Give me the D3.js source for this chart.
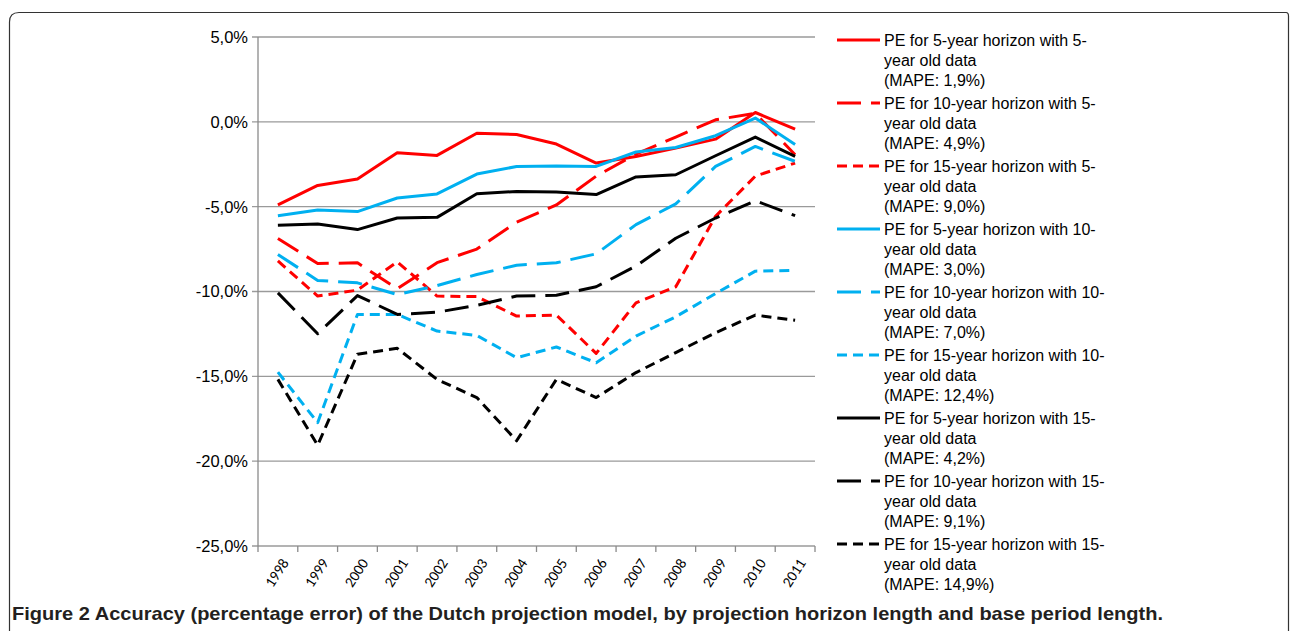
<!DOCTYPE html>
<html>
<head>
<meta charset="utf-8">
<script src="https://cdn.jsdelivr.net/npm/d3@7"></script>
<style>
  body { margin: 0; background: #fff; }
  svg { display: block; }
</style>
</head>
<body>
<script>
// categories
var years = ["1998","1999","2000","2001","2002","2003","2004","2005","2006","2007","2008","2009","2010","2011"];

// percentage errors per series (horizon_baseperiod)
var pe5_5   = [-4.9, -3.75, -3.37, -1.82, -1.98, -0.67, -0.75, -1.31, -2.43, -2.04, -1.55, -1.02, 0.55, -0.43];
var pe10_5  = [-6.88, -8.35, -8.31, -9.84, -8.3, -7.5, -5.92, -4.9, -3.2, -1.9, -0.9, 0.12, 0.5, -1.94];
var pe15_5  = [-8.2, -10.27, -9.92, -8.25, -10.27, -10.3, -11.45, -11.39, -13.65, -10.67, -9.72, -5.57, -3.2, -2.43];
var pe5_10  = [-5.53, -5.2, -5.29, -4.49, -4.25, -3.08, -2.63, -2.6, -2.63, -1.78, -1.51, -0.82, 0.22, -1.33];
var pe10_10 = [-7.82, -9.35, -9.49, -10.18, -9.65, -9.0, -8.45, -8.31, -7.78, -6.06, -4.84, -2.63, -1.45, -2.33];
var pe15_10 = [-14.75, -17.73, -11.35, -11.35, -12.33, -12.59, -13.9, -13.27, -14.2, -12.63, -11.49, -10.12, -8.8, -8.75];
var pe5_15  = [-6.1, -6.02, -6.35, -5.67, -5.63, -4.24, -4.1, -4.14, -4.29, -3.25, -3.12, -2.0, -0.9, -2.04];
var pe10_15 = [-10.08, -12.49, -10.24, -11.35, -11.22, -10.82, -10.27, -10.22, -9.72, -8.5, -6.86, -5.67, -4.65, -5.53];
var pe15_15 = [-15.18, -19.06, -13.7, -13.35, -15.18, -16.25, -18.8, -15.18, -16.25, -14.78, -13.6, -12.43, -11.39, -11.69];

// y axis ticks
var yTicks = [5, 0, -5, -10, -15, -20, -25];

// legend labels (3 lines each)
var labels = [
  ["PE for 5-year horizon with 5-", "year old data", "(MAPE: 1,9%)"],
  ["PE for 10-year horizon with 5-", "year old data", "(MAPE: 4,9%)"],
  ["PE for 15-year horizon with 5-", "year old data", "(MAPE: 9,0%)"],
  ["PE for 5-year horizon with 10-", "year old data", "(MAPE: 3,0%)"],
  ["PE for 10-year horizon with 10-", "year old data", "(MAPE: 7,0%)"],
  ["PE for 15-year horizon with 10-", "year old data", "(MAPE: 12,4%)"],
  ["PE for 5-year horizon with 15-", "year old data", "(MAPE: 4,2%)"],
  ["PE for 10-year horizon with 15-", "year old data", "(MAPE: 9,1%)"],
  ["PE for 15-year horizon with 15-", "year old data", "(MAPE: 14,9%)"]
];

var caption = "Figure 2 Accuracy (percentage error) of the Dutch projection model, by projection horizon length and base period length.";

var seriesValues = [pe5_5, pe10_5, pe15_5, pe5_10, pe10_10, pe15_10, pe5_15, pe10_15, pe15_15];
var colors = ["#ff0000", "#ff0000", "#ff0000", "#00b0f0", "#00b0f0", "#00b0f0", "#000000", "#000000", "#000000"];
var dashes = ["none", "24,10", "10,6", "none", "24,10", "10,6", "none", "24,10", "10,6"];

var W = 1290, H = 631;
var svg = d3.select("body").append("svg")
            .attr("width", W)
            .attr("height", H);

// frame
svg.append("path")
   .attr("d", "M9.5,640 L9.5,22 Q9.5,12.5 19,12.5 L1286,12.5 Q1288.5,12.5 1288.5,16 L1288.5,640")
   .attr("fill", "none")
   .attr("stroke", "#333")
   .attr("stroke-width", 1.2);

// scales
var x = d3.scaleBand().domain(years).range([258, 815]).padding(0);
var y = d3.scaleLinear().domain([-25, 5]).range([546, 37]);

// gridlines
svg.append("g").selectAll("line")
   .data(yTicks)
   .enter().append("line")
   .attr("x1", 252).attr("x2", 815)
   .attr("y1", d => y(d)).attr("y2", d => y(d))
   .attr("stroke", "#9a9a9a")
   .attr("stroke-width", 1.3);

// y axis line
svg.append("line")
   .attr("x1", 258).attr("x2", 258)
   .attr("y1", y(5)).attr("y2", y(-25))
   .attr("stroke", "#8a8a8a").attr("stroke-width", 1.3);

// y tick labels
svg.append("g").selectAll("text")
   .data(yTicks)
   .enter().append("text")
   .attr("x", 248)
   .attr("y", d => y(d))
   .attr("dy", "0.36em")
   .attr("text-anchor", "end")
   .attr("font-family", "'Liberation Sans', Arial, sans-serif")
   .attr("font-size", 16.5)
   .attr("fill", "#000")
   .text(d => d3.format(".1f")(d).replace(".", ",").replace("−", "-") + "%");

// x tick marks at band edges
var edges = years.map(d => x(d)).concat([x.range()[1]]);
svg.append("g").selectAll("line")
   .data(edges)
   .enter().append("line")
   .attr("x1", d => d).attr("x2", d => d)
   .attr("y1", 546).attr("y2", 552)
   .attr("stroke", "#8a8a8a").attr("stroke-width", 1.3);

// x tick labels
svg.append("g").selectAll("text")
   .data(years)
   .enter().append("text")
   .attr("transform", d => "translate(" + (x(d) + x.bandwidth() / 2 + 7) + ",560) rotate(-57)")
   .attr("dy", "0.35em")
   .attr("text-anchor", "end")
   .attr("font-family", "Carlito, 'Liberation Sans', sans-serif")
   .attr("font-size", 15)
   .attr("fill", "#000")
   .text(d => d);

// series lines
var line = d3.line()
             .x((d, i) => x(years[i]) + x.bandwidth() / 2)
             .y(d => y(d));

svg.append("g").selectAll("path")
   .data(seriesValues)
   .enter().append("path")
   .attr("d", d => line(d))
   .attr("fill", "none")
   .attr("stroke", (d, i) => colors[i])
   .attr("stroke-width", 3)
   .attr("stroke-dasharray", (d, i) => dashes[i])
   .attr("stroke-linejoin", "round");

// legend
var legend = svg.append("g");
var entry = legend.selectAll("g")
                  .data(labels)
                  .enter().append("g")
                  .attr("transform", (d, i) => "translate(0," + (40 + i * 63) + ")");

entry.append("line")
     .attr("x1", 837).attr("x2", 880)
     .attr("y1", 0).attr("y2", 0)
     .attr("stroke", (d, i) => colors[i])
     .attr("stroke-width", 3)
     .attr("stroke-dasharray", (d, i) => dashes[i]);

entry.append("text")
     .attr("x", 884)
     .attr("font-family", "'Liberation Sans', Arial, sans-serif")
     .attr("font-size", 16)
     .attr("fill", "#000")
     .selectAll("tspan")
     .data(d => d)
     .enter().append("tspan")
     .attr("x", 884)
     .attr("y", (d, i) => i * 20)
     .attr("dy", "0.36em")
     .text(d => d);

// caption
svg.append("text")
   .attr("x", 12)
   .attr("y", 620)
   .attr("font-family", "'Liberation Sans Narrow', 'Liberation Sans', sans-serif")
   .attr("font-weight", "bold")
   .attr("font-size", 19)
   .attr("textLength", 1151)
   .attr("lengthAdjust", "spacingAndGlyphs")
   .attr("fill", "#231f20")
   .text(caption);
</script>
</body>
</html>
